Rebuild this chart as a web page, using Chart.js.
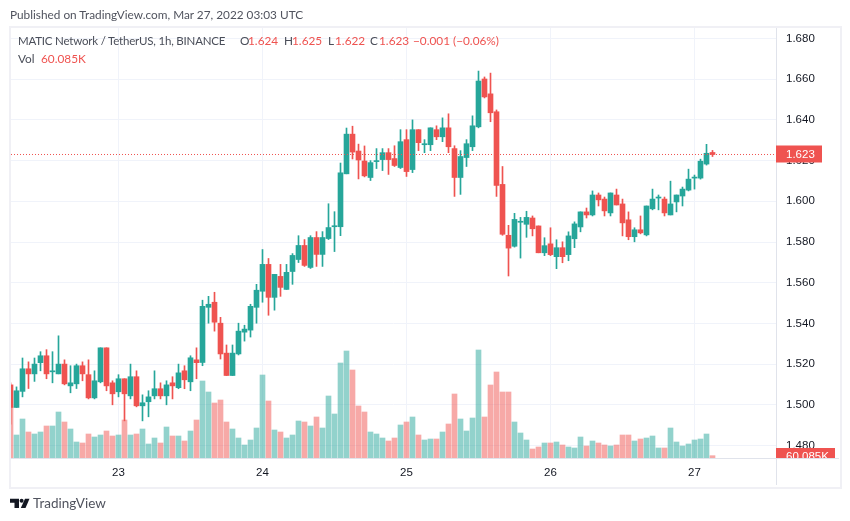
<!DOCTYPE html>
<html>
<head>
<meta charset="utf-8">
<script src="https://cdn.jsdelivr.net/npm/chart.js@4"></script>
<style>
  body { margin: 0; background: #fff; font-family: Lato, sans-serif; }
  #wrap { position: relative; width: 850px; height: 521px; overflow: hidden; }
  #grafica { position: absolute; left: 0; top: 0; }
  .t { position: absolute; font-size: 11.8px; line-height: 16px; white-space: nowrap; color: #50535e; }
  .leg { font-size: 11.8px; color: #4a4e59; }
  .rojo { color: #ef5350; }
  .linea { position: absolute; background: #e0e3eb; }
  .marco { position: absolute; left: 9px; top: 26px; width: 829px; height: 459px; border: 2px solid #f0f0f5; }
</style>
</head>
<body>
<div id="wrap">
  <div class="marco"></div>
  <div class="linea" style="left:776px;top:28px;width:1px;height:457px"></div>
  <div class="linea" style="left:776px;top:458px;width:63px;height:1px"></div>
  <canvas id="grafica" width="850" height="521"></canvas>

  <div class="t" style="left:10px;top:7px">Published on TradingView.com, Mar 27, 2022 03:03 UTC</div>

  <div class="t leg" style="left:18px;top:33px;font-size:11.5px;letter-spacing:-0.2px">MATIC Network / TetherUS, 1h, BINANCE</div>
  <div class="t leg" style="left:240px;top:33px">O</div><div class="t leg rojo" style="left:248px;top:33px">1.624</div>
  <div class="t leg" style="left:284px;top:33px">H</div><div class="t leg rojo" style="left:292px;top:33px">1.625</div>
  <div class="t leg" style="left:328px;top:33px">L</div><div class="t leg rojo" style="left:335px;top:33px">1.622</div>
  <div class="t leg" style="left:370px;top:33px">C</div><div class="t leg rojo" style="left:379px;top:33px">1.623</div>
  <div class="t leg rojo" style="left:413px;top:33px">−0.001 (−0.06%)</div>
  <div class="t leg" style="left:18px;top:51px">Vol</div>
  <div class="t leg rojo" style="left:41px;top:51px">60.085K</div>

  <svg style="position:absolute;left:10px;top:498px" width="21" height="11" viewBox="0 0 21 11">
    <path fill="#131722" d="M0 0.7H9V10H4.5V4.7H0Z"/>
    <circle fill="#131722" cx="11.6" cy="2.7" r="2"/>
    <path fill="#131722" d="M15 0.7H19.5L15.5 10H10.8Z"/>
  </svg>
  <div class="t" style="left:33px;top:495px;font-size:13.5px">TradingView</div>
</div>

<script>
const opens = [1.5098,1.4987,1.5066,1.5177,1.5152,1.5207,1.5241,1.5162,1.5152,1.5200,1.5093,1.5103,1.5192,1.5148,1.5034,1.5113,1.5280,1.5108,1.5064,1.5128,1.5044,1.5138,1.4995,1.5015,1.5044,1.5079,1.5044,1.5108,1.5084,1.5167,1.5113,1.5221,
  1.5208,1.5479,1.5504,1.5401,1.5254,1.5144,1.5250,1.5357,1.5367,1.5479,1.5558,1.5690,1.5528,1.5631,1.5567,1.5655,1.5714,1.5783,1.5675,1.5822,1.5739,1.5817,1.5875,1.5875,1.6135,1.6330,1.6247,1.6198,
  1.6117,1.6195,1.6205,1.6239,1.6210,1.6166,1.6303,1.6156,1.6352,1.6278,1.6278,1.6352,1.6317,1.6361,1.6259,1.6117,1.6215,1.6268,1.6366,1.6601,1.6528,1.6440,1.6083,1.5833,1.5779,1.5897,1.5887,
  1.5918,1.5879,1.5747,1.5791,1.5728,1.5772,1.5738,1.5816,1.5874,1.5948,1.5933,1.6031,1.6011,1.5943,1.6031,1.5987,1.5909,1.5826,1.5860,1.5835,1.5963,1.6016,1.6011,1.5933,1.5997,1.6026,1.6055,1.6114,1.6114,1.6183,1.624];
const highs = [1.5108,1.5088,1.5230,1.5211,1.5230,1.5261,1.5271,1.5261,1.5339,1.5221,1.5192,1.5200,1.5211,1.5221,1.5167,1.5280,1.5280,1.5118,1.5148,1.5128,1.5200,1.5167,1.5049,1.5069,1.5167,1.5108,1.5118,1.5138,1.5200,1.5192,1.5241,1.5280,
  1.5514,1.5533,1.5553,1.5430,1.5294,1.5294,1.5401,1.5391,1.5494,1.5592,1.5763,1.5719,1.5641,1.5690,1.5690,1.5743,1.5831,1.5812,1.5831,1.5851,1.5851,1.5988,1.5949,1.6188,1.6360,1.6369,1.6281,1.6272,
  1.6200,1.6259,1.6259,1.6259,1.6273,1.6352,1.6352,1.6400,1.6352,1.6303,1.6361,1.6371,1.6410,1.6430,1.6273,1.6249,1.6303,1.6420,1.6640,1.6611,1.6630,1.6449,1.6171,1.5882,1.5941,1.5921,1.5951,
  1.5928,1.5879,1.5821,1.5870,1.5811,1.5801,1.5850,1.5899,1.5948,1.5967,1.6051,1.6041,1.6021,1.6041,1.6060,1.6011,1.5948,1.5870,1.5928,1.5977,1.6060,1.6031,1.6021,1.6099,1.6031,1.6070,1.6158,1.6129,1.6207,1.6280,1.625];
const lows = [1.4905,1.4987,1.5039,1.5080,1.5115,1.5167,1.5128,1.5108,1.5152,1.5098,1.5059,1.5080,1.5118,1.5029,1.5029,1.5108,1.5069,1.5000,1.5039,1.4921,1.5029,1.4990,1.4921,1.4941,1.5029,1.5029,1.5000,1.5029,1.5079,1.5079,1.5069,1.5128,
  1.5192,1.5401,1.5362,1.5225,1.5144,1.5144,1.5245,1.5313,1.5333,1.5401,1.5504,1.5440,1.5465,1.5533,1.5567,1.5592,1.5699,1.5680,1.5670,1.5680,1.5680,1.5812,1.5753,1.5831,1.6135,1.6208,1.6110,1.6120,
  1.6102,1.6161,1.6151,1.6132,1.6171,1.6161,1.6122,1.6141,1.6249,1.6239,1.6249,1.6303,1.6293,1.6239,1.6024,1.6034,1.6171,1.6249,1.6361,1.6508,1.6391,1.6024,1.5833,1.5633,1.5775,1.5721,1.5823,
  1.5830,1.5747,1.5733,1.5733,1.5669,1.5698,1.5708,1.5772,1.5850,1.5918,1.5928,1.5977,1.5928,1.5928,1.5982,1.5830,1.5811,1.5801,1.5840,1.5830,1.5958,1.5958,1.5928,1.5933,1.5948,1.5977,1.6051,1.6060,1.6109,1.6178,1.622];
const closes = [1.4987,1.5069,1.5177,1.5152,1.5200,1.5241,1.5152,1.5167,1.5200,1.5103,1.5108,1.5192,1.5152,1.5034,1.5118,1.5280,1.5093,1.5054,1.5128,1.5054,1.5138,1.4995,1.5010,1.5039,1.5079,1.5044,1.5098,1.5093,1.5157,1.5123,1.5231,1.5207,
  1.5484,1.5494,1.5406,1.5250,1.5144,1.5254,1.5362,1.5372,1.5484,1.5563,1.5690,1.5528,1.5641,1.5577,1.5651,1.5734,1.5783,1.5685,1.5822,1.5739,1.5822,1.5871,1.5880,1.6140,1.6330,1.6242,1.6203,1.6125,
  1.6190,1.6200,1.6239,1.6205,1.6176,1.6293,1.6146,1.6352,1.6288,1.6283,1.6361,1.6317,1.6361,1.6268,1.6117,1.6220,1.6283,1.6371,1.6591,1.6513,1.6435,1.6078,1.5838,1.5770,1.5911,1.5902,1.5921,
  1.5865,1.5747,1.5782,1.5738,1.5772,1.5728,1.5830,1.5889,1.5948,1.5933,1.6031,1.6007,1.5953,1.6041,1.5982,1.5894,1.5826,1.5860,1.5845,1.5977,1.6011,1.6021,1.5943,1.5987,1.6031,1.6060,1.6109,1.6119,1.6197,1.6236,1.623];
const volumes = [1352,598,1014,676,624,676,832,832,1196,936,754,416,390,624,546,598,702,572,598,988,598,624,754,364,520,390,806,572,572,442,702,988,
  2002,1716,1430,1508,936,754,520,338,468,780,2158,1482,728,676,520,598,962,936,832,1066,780,1612,1144,2470,2782,2288,1352,1196,
  676,624,520,442,520,858,936,1066,598,468,494,494,676,884,1664,1014,702,1040,2808,1066,1898,2236,1716,1716,936,650,468,
  234,286,390,390,416,338,286,260,546,312,442,390,338,312,338,598,598,442,494,520,572,260,260,780,416,312,364,468,494,624,60.085];
const dayTickIndex = [18, 42, 66, 90, 114];
const dayTickLabels = ["23", "24", "25", "26", "27"];
const priceTicks = [1.48, 1.50, 1.52, 1.54, 1.56, 1.58, 1.60, 1.62, 1.64, 1.66, 1.68];
const lastPrice = 1.623;
const lastVolumeLabel = "60.085K";

const verde = "#26a69a";
const rojo = "#ef5350";
const fuente = '"Liberation Sans", sans-serif';

const xMin = 0.0833;
const xMax = 127.5833;

const esSubida = (i) => closes[i] >= opens[i];
const colorVela = opens.map((o, i) => esSubida(i) ? verde : rojo);
const colorVol = opens.map((o, i) => esSubida(i) ? "rgba(38,166,154,0.5)" : "rgba(239,83,80,0.5)");

const etiquetas = {
  id: "etiquetas",
  afterDraw(chart) {
    const { ctx, scales } = chart;
    const yPrecio = Math.round(scales.y.getPixelForValue(lastPrice));
    ctx.save();
    ctx.fillStyle = rojo;
    ctx.fillRect(776, yPrecio - 8.5, 46, 17);
    ctx.fillStyle = "#fff";
    ctx.font = "11.5px " + fuente;
    ctx.textBaseline = "middle";
    ctx.textAlign = "left";
    ctx.fillText(lastPrice.toFixed(3), 786, yPrecio + 0.5);

    // la etiqueta del volumen queda cortada por el borde del panel
    ctx.beginPath();
    ctx.rect(776, 440, 64, 18);
    ctx.clip();
    const yVol = 456;
    ctx.fillStyle = rojo;
    ctx.fillRect(776, yVol - 8, 59, 17);
    ctx.fillStyle = "#fff";
    ctx.fillText(lastVolumeLabel, 786, yVol + 0.5);
    ctx.restore();
  }
};

new Chart(document.getElementById("grafica"), {
  type: "bar",
  data: {
    datasets: [
      {
        type: "line",
        data: [{ x: xMin, y: lastPrice }, { x: xMax, y: lastPrice }],
        borderColor: rojo,
        borderWidth: 1,
        borderDash: [1, 2],
        pointRadius: 0,
        yAxisID: "y",
        order: 0
      },
      {
        data: opens.map((o, i) => ({ x: i, y: [o, closes[i]] })),
        backgroundColor: colorVela,
        barThickness: 5,
        grouped: false,
        yAxisID: "y",
        order: 1
      },
      {
        data: opens.map((o, i) => ({ x: i, y: [lows[i], highs[i]] })),
        backgroundColor: colorVela,
        barThickness: 1,
        grouped: false,
        yAxisID: "y",
        order: 2
      },
      {
        data: volumes.map((v, i) => ({ x: i, y: v })),
        backgroundColor: colorVol,
        barThickness: 5,
        grouped: false,
        yAxisID: "vol",
        order: 3
      }
    ]
  },
  options: {
    responsive: false,
    animation: false,
    layout: { padding: { left: 11, top: 28, right: 10, bottom: 35 } },
    plugins: { legend: { display: false }, tooltip: { enabled: false } },
    scales: {
      x: {
        type: "linear",
        min: xMin,
        max: xMax,
        offset: false,
        afterBuildTicks: (eje) => { eje.ticks = dayTickIndex.map(v => ({ value: v })); },
        afterFit: (eje) => { eje.height = 28; },
        grid: { offset: false, color: "#f0f3fa", drawTicks: false },
        border: { color: "#e0e3eb" },
        ticks: {
          autoSkip: false,
          maxRotation: 0,
          padding: 8,
          color: "#131722",
          font: { family: fuente, size: 11.5 },
          callback: (v, i) => dayTickLabels[i]
        }
      },
      y: {
        position: "right",
        min: 1.47386,
        max: 1.68516,
        afterBuildTicks: (eje) => { eje.ticks = priceTicks.map(v => ({ value: v })); },
        afterFit: (eje) => { eje.width = 64; },
        grid: { color: "#f0f3fa", drawTicks: false },
        border: { display: false },
        ticks: {
          padding: 10,
          color: "#131722",
          font: { family: fuente, size: 11.5 },
          callback: (v) => v.toFixed(3)
        }
      },
      vol: { display: false, min: 0, max: 11180 }
    }
  },
  plugins: [etiquetas]
});
</script>
</body>
</html>
